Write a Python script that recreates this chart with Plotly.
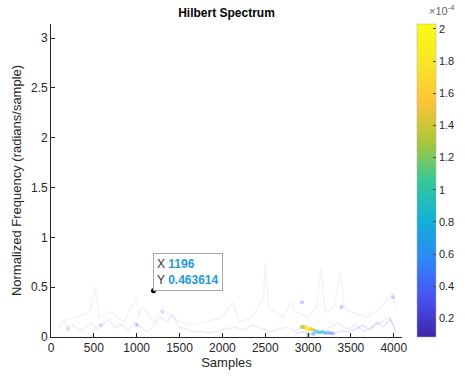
import plotly.graph_objects as go

# ---- data ----
ridge_a_samples = [80, 150, 200, 260, 330, 400, 470, 540, 600, 680, 750, 820, 900, 980, 1050, 1120, 1200, 1280,
                   1350, 1420, 1500, 1580, 1650, 1750, 1850, 1950, 2050, 2150, 2250, 2350, 2450, 2550, 2650, 2750,
                   2850, 2950, 3050, 3150, 3250, 3350, 3450, 3550, 3650, 3750, 3850, 3950, 4000]
ridge_a_freq = [0.08, 0.15, 0.10, 0.12, 0.06, 0.10, 0.14, 0.08, 0.12, 0.18, 0.09, 0.13, 0.07, 0.15, 0.10, 0.05,
                0.12, 0.20, 0.15, 0.22, 0.10, 0.08, 0.05, 0.06, 0.04, 0.06, 0.08, 0.10, 0.07, 0.12, 0.09, 0.05,
                0.08, 0.10, 0.06, 0.12, 0.08, 0.05, 0.10, 0.14, 0.08, 0.12, 0.06, 0.10, 0.15, 0.20, 0.10]

ridge_b_samples = [100, 300, 450, 515, 560, 700, 850, 1000, 1020, 1060, 1200, 1310, 1350, 1450, 1600, 1800, 2000,
                   2120, 2200, 2350, 2480, 2500, 2540, 2700, 2800, 2850, 3000, 3100, 3150, 3200, 3300, 3380, 3420,
                   3500, 3700, 3850, 3990, 4030]
ridge_b_freq = [0.15, 0.20, 0.25, 0.50, 0.20, 0.25, 0.15, 0.40, 0.20, 0.30, 0.15, 0.30, 0.25, 0.18, 0.12, 0.15,
                0.20, 0.35, 0.15, 0.20, 0.40, 0.75, 0.30, 0.20, 0.35, 0.25, 0.20, 0.30, 0.70, 0.25, 0.30, 0.65,
                0.30, 0.25, 0.20, 0.30, 0.45, 0.25]

ridge_c_samples = [2850, 2920, 3000, 3080, 3160, 3240, 3320, 3400, 3480, 3560, 3640, 3720, 3800, 3880, 3960, 4030]
ridge_c_freq = [0.03, 0.05, 0.04, 0.03, 0.05, 0.03, 0.04, 0.06, 0.05, 0.08, 0.12, 0.07, 0.15, 0.10, 0.18, 0.05]

hot_samples = [2930, 2950, 2970, 2990, 3010, 3030, 3050, 3080, 3110, 3140, 3170, 3200, 3230, 3260, 3290, 3000, 3060,
               1000, 2930, 3390, 3990, 1300, 580, 200]
hot_freq = [0.10, 0.10, 0.09, 0.085, 0.08, 0.08, 0.075, 0.06, 0.05, 0.045, 0.05, 0.04, 0.045, 0.04, 0.035, 0.02, 0.03,
            0.12, 0.35, 0.30, 0.40, 0.25, 0.12, 0.08]
hot_amp = [1.3, 1.45, 1.7, 2.0, 1.9, 1.75, 1.5, 0.9, 0.8, 0.9, 0.75, 0.7, 0.6, 0.5, 0.45, 0.6, 0.7,
           0.4, 0.35, 0.35, 0.25, 0.25, 0.3, 0.3]  # x 1e-4
hot_alpha = [0.8, 0.8, 0.8, 0.9, 0.9, 0.8, 0.7, 0.5, 0.5, 0.5, 0.45, 0.45, 0.4, 0.4, 0.35, 0.4, 0.45,
             0.3, 0.3, 0.3, 0.25, 0.2, 0.2, 0.2]

tip_x = 1196
tip_y = 0.463614

x_ticks = [0, 500, 1000, 1500, 2000, 2500, 3000, 3500, 4000]
y_ticks = [0, 0.5, 1, 1.5, 2, 2.5, 3]
cb_ticks = [0.2, 0.4, 0.6, 0.8, 1, 1.2, 1.4, 1.6, 1.8, 2]

parula = [[0.0, 'rgb(62,38,168)'], [0.125, 'rgb(72,82,244)'], [0.25, 'rgb(46,135,247)'],
          [0.375, 'rgb(18,177,214)'], [0.5, 'rgb(55,200,151)'], [0.625, 'rgb(171,199,57)'],
          [0.75, 'rgb(254,195,56)'], [0.875, 'rgb(246,230,38)'], [1.0, 'rgb(249,251,21)']]

FONT = 'Liberation Sans, Arial'
fig = go.Figure()

for xs, ys, col in [(ridge_a_samples, ridge_a_freq, 'rgba(120,120,230,0.13)'),
                    (ridge_b_samples, ridge_b_freq, 'rgba(140,140,230,0.10)'),
                    (ridge_c_samples, ridge_c_freq, 'rgba(100,120,230,0.18)')]:
    fig.add_trace(go.Scatter(x=xs, y=ys, mode='lines', line=dict(color=col, width=1.6),
                             hoverinfo='skip', showlegend=False))

fig.add_trace(go.Scatter(
    x=hot_samples, y=hot_freq, mode='markers', showlegend=False, hoverinfo='skip',
    marker=dict(size=4, color=hot_amp, colorscale=parula, cmin=0.085, cmax=2.03, opacity=hot_alpha,
                line=dict(width=0),
                colorbar=dict(x=(417 - 51) / 351, xanchor='left', y=0, yanchor='bottom', len=1, lenmode='fraction',
                              thickness=19, thicknessmode='pixels', outlinewidth=0.5, outlinecolor='#b0b0b0',
                              xpad=0, ypad=0,
                              tickvals=cb_ticks, ticktext=[f'{v:g}' for v in cb_ticks],
                              ticks='inside', ticklen=3, tickcolor='#444',
                              tickfont=dict(family=FONT, size=11, color='#262626')))))

fig.add_trace(go.Scatter(x=[tip_x], y=[tip_y], mode='markers', showlegend=False, hoverinfo='skip',
                         marker=dict(size=5, color='black')))

blue = '#1E9BD7'
fig.add_annotation(x=tip_x, y=tip_y, xref='x', yref='y', xanchor='left', yanchor='bottom',
                   showarrow=False, align='left',
                   text=(f"<span style='color:#333'>X </span><span style='color:{blue}'><b>{tip_x}</b></span><br>"
                         f"<span style='color:#333'>Y </span><span style='color:{blue}'><b>{tip_y}</b></span>"),
                   font=dict(family=FONT, size=12),
                   bgcolor='white', bordercolor='#a8a8a8', borderwidth=1, borderpad=3)

fig.add_annotation(x=(427 - 51) / 351, y=1.0, xref='paper', yref='paper', xanchor='left', yanchor='bottom',
                   yshift=5, showarrow=False, text='\u00d710<sup>-4</sup>',
                   font=dict(family=FONT, size=11, color='#666'))

axis_common = dict(showline=True, linecolor='#262626', linewidth=0.8, ticks='inside', ticklen=4,
                   tickcolor='#262626', showgrid=False, zeroline=False, mirror=False,
                   tickfont=dict(family=FONT, size=12, color='#262626'))

fig.update_layout(
    width=465, height=376, margin=dict(l=51, r=63, t=24, b=39, autoexpand=False),
    paper_bgcolor='white', plot_bgcolor='white',
    title=dict(text='<b>Hilbert Spectrum</b>', x=(226.5 / 465), xanchor='center', y=0.965, yanchor='middle',
               font=dict(family=FONT, size=12, color='#000')),
    xaxis=dict(range=[0, 4096], tickvals=x_ticks, title=dict(text='Samples', standoff=3,
               font=dict(family=FONT, size=13, color='#262626')), **axis_common),
    yaxis=dict(range=[0, 3.1416], tickvals=y_ticks, ticktext=[f'{v:g}' for v in y_ticks],
               title=dict(text='Normalized Frequency (radians/sample)', standoff=6,
               font=dict(family=FONT, size=13, color='#262626')), **axis_common),
)

fig.write_html('out.html')
